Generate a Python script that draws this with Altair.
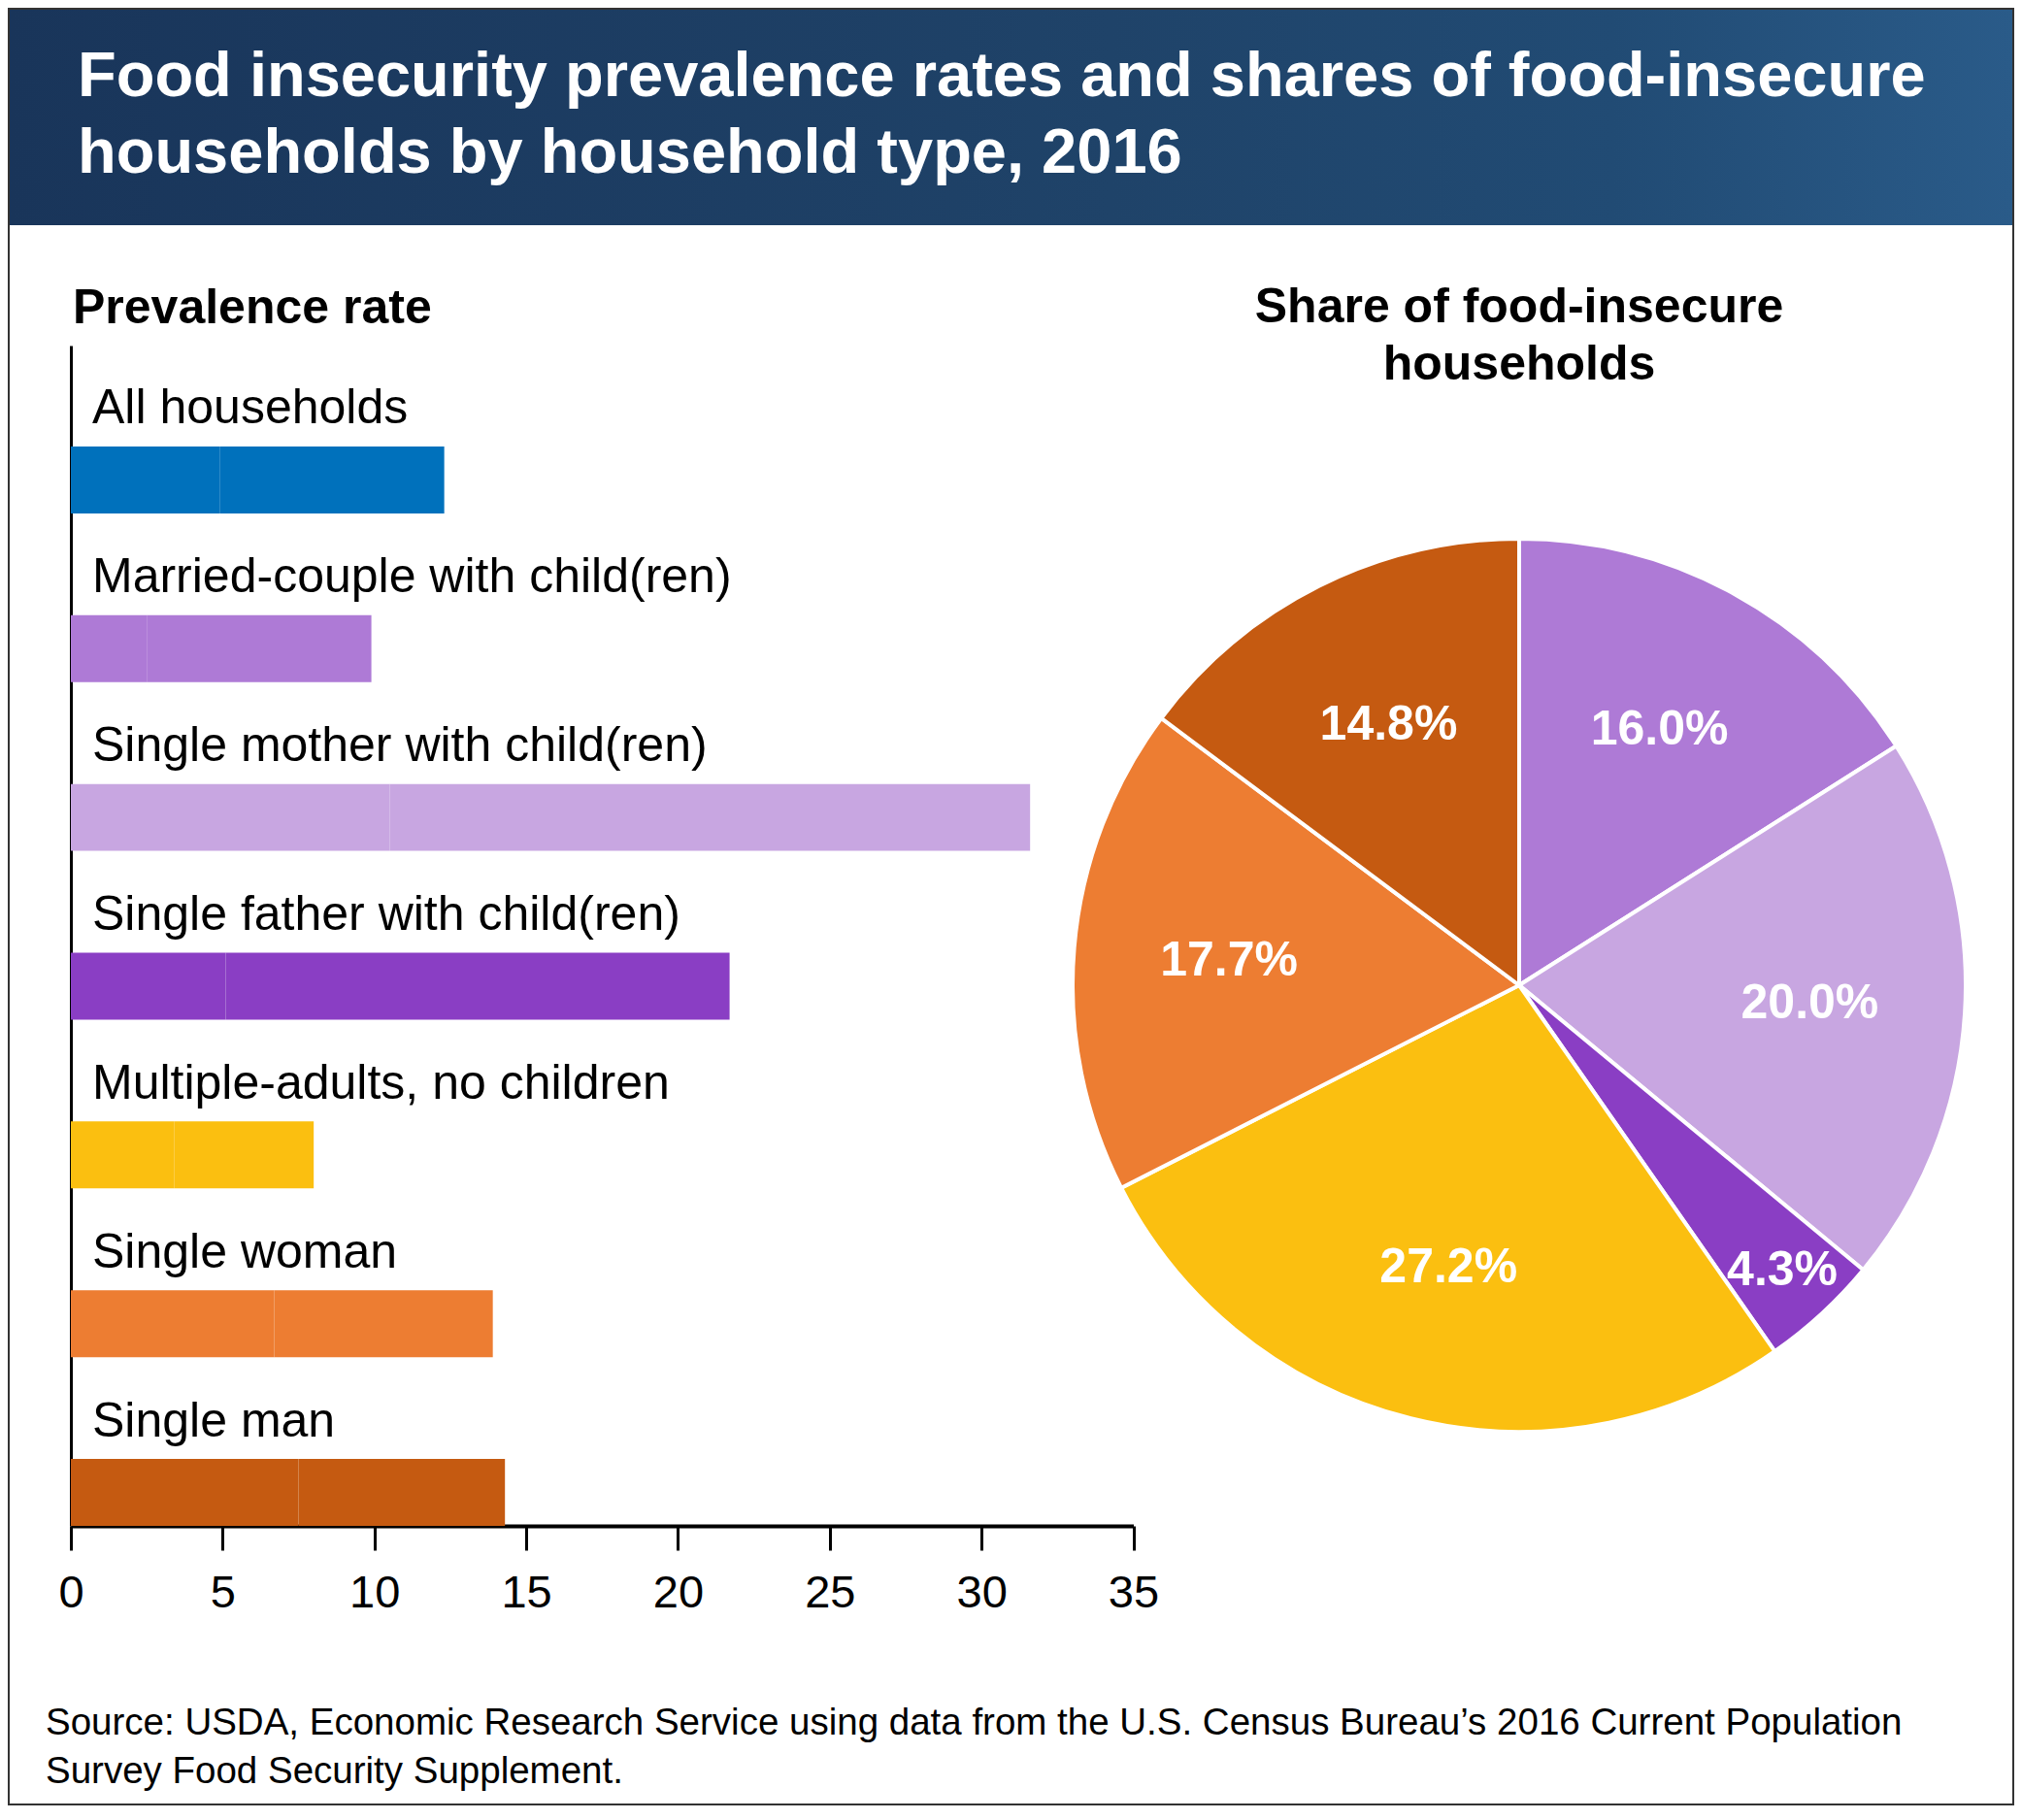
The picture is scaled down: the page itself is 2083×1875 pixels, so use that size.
import altair as alt
import pandas as pd

FONT = "Liberation Sans"

# ---- data ----
categories = [
    "All households",
    "Married-couple with child(ren)",
    "Single mother with child(ren)",
    "Single father with child(ren)",
    "Multiple-adults, no children",
    "Single woman",
    "Single man",
]
prevalence = [12.3, 9.9, 31.6, 21.7, 8.0, 13.9, 14.3]
very_low = [4.9, 2.5, 10.5, 5.1, 3.4, 6.7, 7.5]
colors = ["#0071BC", "#AE7AD6", "#C8A6E1", "#8A3EC4", "#FBBF10", "#ED7D32", "#C55A11"]

pie_categories = [
    "Married-couple with child(ren)",
    "Single mother with child(ren)",
    "Single father with child(ren)",
    "Multiple-adults, no children",
    "Single woman",
    "Single man",
]
pie_shares = [16.0, 20.0, 4.3, 27.2, 17.7, 14.8]
tick_values = [0, 5, 10, 15, 20, 25, 30, 35]

title_lines = ["Food insecurity prevalence rates and shares of food-insecure",
               "households by household type, 2016"]
pie_title_lines = ["Share of food-insecure", "households"]
bar_title = "Prevalence rate"
source_lines = ["Source: USDA, Economic Research Service using data from the U.S. Census Bureau\u2019s 2016 Current Population",
                "Survey Food Security Supplement."]

W, H = 2067, 1852

# ---- tables ----
rows = []
for c, tot, vl in zip(categories, prevalence, very_low):
    rows.append({"cat": c, "start": 0.0, "end": vl})
    rows.append({"cat": c, "start": vl, "end": tot})
bar_df = pd.DataFrame(rows)
lab_df = pd.DataFrame({"cat": categories})
pie_df = pd.DataFrame({
    "cat": pie_categories,
    "share": pie_shares,
    "idx": list(range(len(pie_categories))),
    "label": [f"{v:.1f}%" for v in pie_shares],
})

cscale = alt.Scale(domain=categories, range=colors)
tscale = alt.Scale(domain=[0, 100])
xscale = alt.Scale(domain=[0, 35], range=[65, 1159.5], nice=False, zero=True)
yscale = alt.Scale(domain=categories, range=[348, 1564], paddingInner=0.6034,
                   paddingOuter=0.2989, align=1)
yaxis = alt.Axis(domain=True, domainColor="black", domainWidth=3, ticks=False,
                 labels=False, title=None, grid=False, offset=-65)
xaxis = alt.Axis(values=tick_values, grid=False, domainColor="black", domainWidth=4,
                 tickColor="black", tickWidth=3, tickSize=25, labelFont=FONT,
                 labelFontSize=47, labelColor="black", labelPadding=21, title=None,
                 labelFlush=False, labelOverlap=False, offset=1564 - H, format="d")


def txt(text, x, y, size, weight="normal", color="black", align="left"):
    return alt.Chart(pd.DataFrame({"t": [text]})).mark_text(
        align=align, baseline="alphabetic", font=FONT, fontSize=size,
        fontWeight=weight, color=color
    ).encode(x=alt.value(x), y=alt.value(y), text="t:N")


one = pd.DataFrame({"a": [0]})
gradient = {
    "gradient": "linear", "x1": 0, "x2": 1, "y1": 0, "y2": 0,
    "stops": [
        {"offset": 0, "color": "#19355a"},
        {"offset": 0.55, "color": "#1f4369"},
        {"offset": 0.8, "color": "#214b74"},
        {"offset": 1, "color": "#2a5b89"},
    ],
}
header = alt.Chart(one).mark_rect(fill=gradient).encode(
    x=alt.value(0), x2=alt.value(W), y=alt.value(0), y2=alt.value(224))
frame = alt.Chart(one).mark_rect(fillOpacity=0, stroke="#333333", strokeWidth=2).encode(
    x=alt.value(1), x2=alt.value(W - 1), y=alt.value(1), y2=alt.value(H - 1))

bars = alt.Chart(bar_df).mark_bar().encode(
    x=alt.X("start:Q", scale=xscale, axis=xaxis),
    x2="end:Q",
    y=alt.Y("cat:N", scale=yscale, axis=yaxis),
    color=alt.Color("cat:N", scale=cscale, legend=None),
)
bar_labels = alt.Chart(lab_df).mark_text(
    align="left", baseline="alphabetic", dy=-58, font=FONT, fontSize=50, color="black"
).encode(
    y=alt.Y("cat:N", scale=yscale, axis=yaxis),
    x=alt.value(87),
    text="cat:N",
)

cx, cy = 1557, 1007
arcs = alt.Chart(pie_df).mark_arc(outerRadius=460, stroke="white", strokeWidth=4).encode(
    theta=alt.Theta("share:Q", stack=True, scale=tscale),
    order=alt.Order("idx:Q"),
    color=alt.Color("cat:N", scale=cscale, legend=None),
    x=alt.value(cx), y=alt.value(cy),
)
arc_labels = alt.Chart(pie_df).transform_window(
    cum="sum(share)", sort=[alt.SortField("idx", order="ascending")]
).transform_calculate(
    mid="datum.cum - datum.share / 2",
    lr="datum.share < 5 ? 400 : 300",
).mark_text(
    font=FONT, fontSize=50, fontWeight="bold", color="white", align="center", baseline="middle"
).encode(
    theta=alt.Theta("mid:Q", stack=None, scale=tscale),
    radius=alt.Radius("lr:Q", scale=None),
    text="label:N",
    x=alt.value(cx), y=alt.value(cy),
)

layers = [header, frame,
          txt(title_lines[0], 72, 91, 65, "bold", "white"),
          txt(title_lines[1], 72, 170, 65, "bold", "white"),
          txt(bar_title, 67, 325, 50, "bold"),
          txt(pie_title_lines[0], 1557, 324, 50, "bold", align="center"),
          txt(pie_title_lines[1], 1557, 383, 50, "bold", align="center"),
          bars, bar_labels, arcs, arc_labels,
          txt(source_lines[0], 39, 1779, 38.5),
          txt(source_lines[1], 39, 1829, 38.5)]

chart = alt.layer(*layers).properties(
    width=W, height=H, autosize="none", padding=0
).configure_view(strokeWidth=0)

chart.save("out.html", embed_options={"renderer": "svg", "actions": False})
